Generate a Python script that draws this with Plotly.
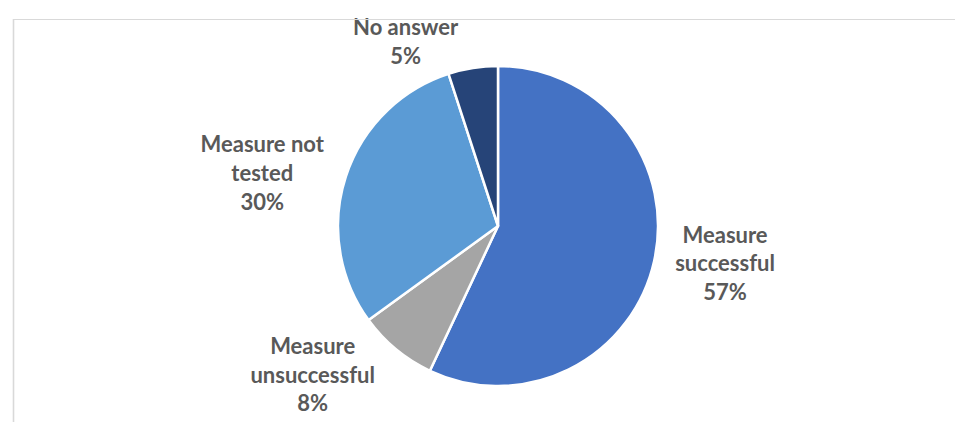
import plotly.graph_objects as go

labels = ["Measure<br>successful", "Measure<br>unsuccessful", "Measure not<br>tested", "No answer"]
values = [57, 8, 30, 5]
colors = ["#4472C4", "#A5A5A5", "#5B9BD5", "#264478"]

W, H = 963, 422
# pie placement (pixels): center and radius of the domain box
CX, CY, RAD = 490, 218, 160

fig = go.Figure(go.Pie(
    labels=labels,
    values=values,
    sort=False,
    direction="clockwise",
    rotation=0,
    domain=dict(x=[(CX - RAD) / W, (CX + RAD) / W],
                y=[(H - CY - RAD) / H, (H - CY + RAD) / H]),
    marker=dict(colors=colors, line=dict(color="white", width=2.5)),
    textposition="outside",
    texttemplate="<b>%{label}<br>%{percent:.0%}</b>",
    textfont=dict(family="Lato", size=22, color="#595959"),
    showlegend=False,
    hoverinfo="label+percent",
))

fig.update_layout(
    width=W, height=H,
    margin=dict(l=0, r=0, t=0, b=0, autoexpand=False),
    paper_bgcolor="white",
    plot_bgcolor="white",
    shapes=[
        dict(type="line", xref="paper", yref="paper",
             x0=5 / W, x1=1.01, y0=(H - 11.5) / H, y1=(H - 11.5) / H,
             line=dict(color="#D9D9D9", width=1.2)),
        dict(type="line", xref="paper", yref="paper",
             x0=5.5 / W, x1=5.5 / W, y0=(H - 11) / H, y1=-0.01,
             line=dict(color="#D9D9D9", width=1.6)),
    ],
)

fig.write_html("out.html")
